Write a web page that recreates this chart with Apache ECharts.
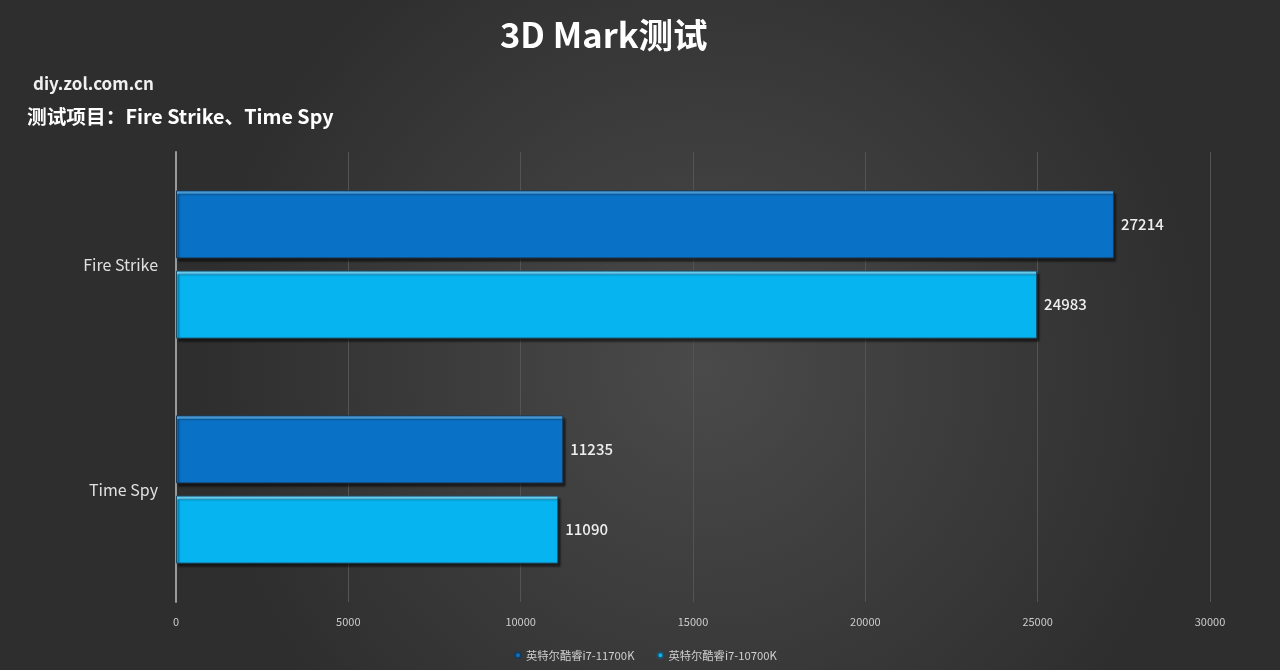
<!DOCTYPE html>
<html><head><meta charset="utf-8">
<script src="https://cdn.jsdelivr.net/npm/echarts@6/dist/echarts.min.js"></script>
<style>html,body{margin:0;padding:0;background:#3c3c3c}#c{width:1280px;height:670px}</style>
</head><body><div id="c"></div>
<script>
const categories = ['Fire Strike', 'Time Spy'];
const seriesNames = ['英特尔酷睿i7-11700K', '英特尔酷睿i7-10700K'];
const values11700K = [27214, 11235];
const values10700K = [24983, 11090];
const xTicks = { min: 0, max: 30000, interval: 5000 };

const font = '"Noto Sans CJK SC", "Noto Sans", sans-serif';
function barColor(top, main) {
  return new echarts.graphic.LinearGradient(0, 0, 0, 1, [
    { offset: 0, color: top }, { offset: 0.05, color: top },
    { offset: 0.06, color: main }, { offset: 1, color: main }
  ]);
}
const chart = echarts.init(document.getElementById('c'));
chart.setOption({
  backgroundColor: new echarts.graphic.RadialGradient(0.55, 0.55, 0.75, [
    { offset: 0, color: '#4a4a4a' }, { offset: 1, color: '#2e2e2e' }
  ]),
  textStyle: { fontFamily: font },
  title: [
    { text: '3D Mark测试', left: 495, top: 13, textStyle: { color: '#ffffff', fontSize: 34.5, fontWeight: 'bold', fontFamily: font } },
    { text: 'diy.zol.com.cn', left: 28, top: 70, textStyle: { color: '#f0f0f0', fontSize: 17, fontWeight: 'bold', fontFamily: font } },
    { text: '测试项目：Fire Strike、Time Spy', left: 22, top: 102, textStyle: { color: '#ffffff', fontSize: 19.7, fontWeight: 'bold', fontFamily: font } }
  ],
  legend: {
    bottom: 4, left: 509, itemWidth: 6, itemHeight: 6, itemGap: 22,
    icon: 'circle',
    textStyle: { color: '#cfcfcf', fontSize: 11.3, fontFamily: font },
    data: seriesNames
  },
  grid: { left: 176, right: 70, top: 152, bottom: 68 },
  xAxis: {
    type: 'value', min: xTicks.min, max: xTicks.max, interval: xTicks.interval,
    axisLine: { show: false }, axisTick: { show: false },
    axisLabel: { color: '#cccccc', fontSize: 11, margin: 14, formatter: v => String(v) },
    splitLine: { lineStyle: { color: '#545454', width: 1 } }
  },
  yAxis: {
    type: 'category', data: categories, inverse: true,
    axisLine: { show: true, lineStyle: { color: '#9a9a9a', width: 2 } },
    axisTick: { show: false },
    axisLabel: { color: '#e0e0e0', fontSize: 16, margin: 18 }
  },
  series: [
    {
      name: seriesNames[0], type: 'bar', data: values11700K, barWidth: 68, barGap: '18%',
      itemStyle: { color: barColor('#4aa6ea', '#0a72c6'), borderColor: '#1b3a55', borderWidth: 1,
        shadowColor: 'rgba(0,0,0,0.55)', shadowOffsetX: 2, shadowOffsetY: 3, shadowBlur: 2 },
      label: { show: true, position: 'right', distance: 7, color: '#eeeeee', fontSize: 15, fontWeight: 500 }
    },
    {
      name: seriesNames[1], type: 'bar', data: values10700K, barWidth: 68,
      itemStyle: { color: barColor('#6ad8ff', '#06b4f0'), borderColor: '#1f4f66', borderWidth: 1,
        shadowColor: 'rgba(0,0,0,0.55)', shadowOffsetX: 2, shadowOffsetY: 3, shadowBlur: 2 },
      label: { show: true, position: 'right', distance: 7, color: '#eeeeee', fontSize: 15, fontWeight: 500 }
    }
  ]
});
</script></body></html>
